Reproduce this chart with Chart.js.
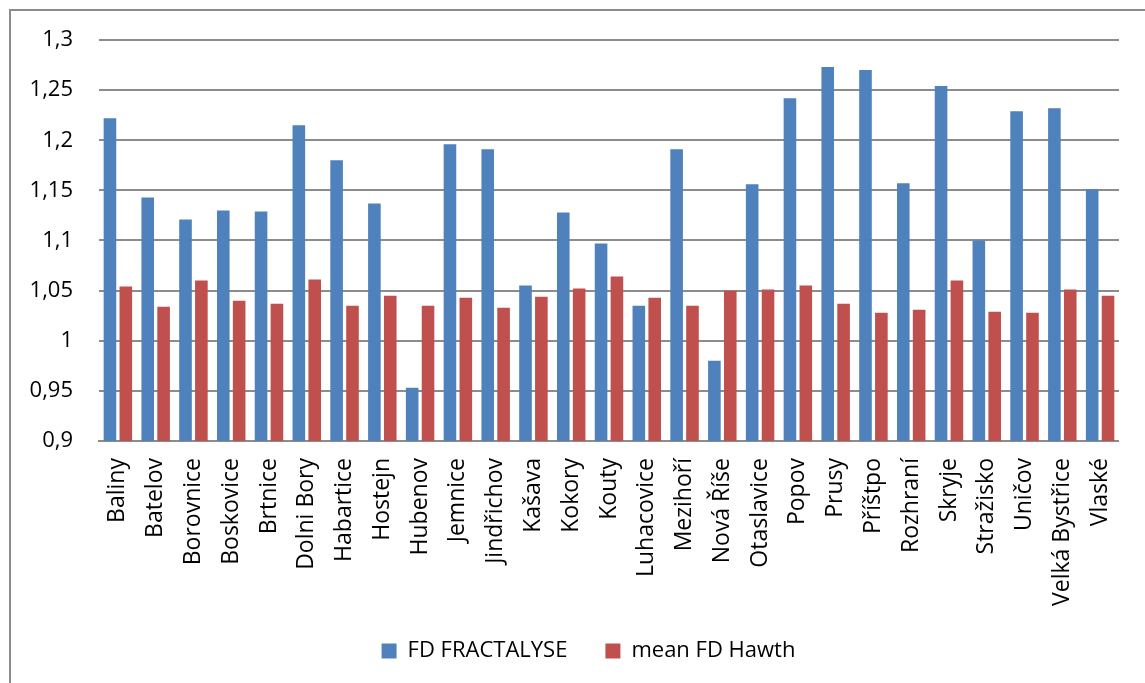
<!DOCTYPE html>
<html>
<head>
<meta charset="utf-8">
<script src="https://cdn.jsdelivr.net/npm/chart.js@4.4.1/dist/chart.umd.min.js"></script>
<style>
  html, body { margin: 0; padding: 0; background: #ffffff; }
  canvas { display: block; }
</style>
</head>
<body>
<canvas id="c" width="1145" height="683"></canvas>
<script>
const categories = ['Baliny','Batelov','Borovnice','Boskovice','Brtnice','Dolni Bory','Habartice','Hostejn','Hubenov','Jemnice','Jindřichov','Kašava','Kokory','Kouty','Luhacovice','Mezihoří','Nová Říše','Otaslavice','Popov','Prusy','Příštpo','Rozhraní','Skryje','Stražisko','Uničov','Velká Bystřice','Vlaské'];
const fdFractalyse = [1.222, 1.143, 1.121, 1.130, 1.129, 1.215, 1.180, 1.137, 0.953, 1.196, 1.191, 1.055, 1.128, 1.097, 1.035, 1.191, 0.980, 1.156, 1.242, 1.273, 1.270, 1.157, 1.254, 1.100, 1.229, 1.232, 1.151];
const meanFdHawth = [1.054, 1.034, 1.060, 1.040, 1.037, 1.061, 1.035, 1.045, 1.035, 1.043, 1.033, 1.044, 1.052, 1.064, 1.043, 1.035, 1.050, 1.051, 1.055, 1.037, 1.028, 1.031, 1.060, 1.029, 1.028, 1.051, 1.045];
const seriesNames = ['FD FRACTALYSE', 'mean FD Hawth'];
const yTickLabels = ['0,9','0,95','1','1,05','1,1','1,15','1,2','1,25','1,3'];

const FONT = 'Open Sans';

const framePlugin = {
  id: 'frame',
  afterLayout(chart) {
    const lg = chart.legend;
    if (lg) {
      lg.left = 48;
      lg.top = 602;
      lg.bottom = 683;
      lg.height = 81;
    }
  },
  beforeDraw(chart) {
    const ctx = chart.ctx;
    ctx.save();
    ctx.strokeStyle = '#8c8c8c';
    ctx.lineWidth = 2;
    ctx.beginPath();
    ctx.moveTo(10, 2000);
    ctx.lineTo(10, 10);
    ctx.lineTo(2000, 10);
    ctx.stroke();
    ctx.restore();
  }
};

new Chart(document.getElementById('c'), {
  type: 'bar',
  data: {
    labels: categories,
    datasets: [
      { label: seriesNames[0], data: fdFractalyse, backgroundColor: '#4F81BD', borderWidth: 0,
        categoryPercentage: 0.84, barPercentage: 0.794 },
      { label: seriesNames[1], data: meanFdHawth, backgroundColor: '#C0504D', borderWidth: 0,
        categoryPercentage: 0.84, barPercentage: 0.794 }
    ]
  },
  options: {
    responsive: false,
    animation: false,
    layout: { padding: { left: 0, right: 16, top: 40, bottom: 11 } },
    plugins: {
      tooltip: { enabled: false },
      title: { display: false },
      legend: {
        position: 'bottom',
        maxHeight: 30,
        labels: {
          font: { family: FONT, size: 22 },
          color: '#000000',
          boxWidth: 15,
          boxHeight: 15,
          padding: 38
        }
      }
    },
    scales: {
      x: {
        grid: { display: false, drawTicks: false },
        border: { display: true, color: '#8c8c8c', width: 2 },
        ticks: {
          font: { family: FONT, size: 23 },
          color: '#000000',
          autoSkip: false,
          minRotation: 90,
          maxRotation: 90,
          padding: 17
        },
        afterFit(scale) { scale.height = 201; }
      },
      y: {
        min: 0.9,
        max: 1.3,
        beginAtZero: false,
        grid: { color: '#8c8c8c', lineWidth: 2, drawTicks: false },
        border: { display: false },
        ticks: {
          stepSize: 0.05,
          font: { family: FONT, size: 22 },
          color: '#000000',
          padding: 26,
          callback: (v, i) => yTickLabels[i]
        },
        afterFit(scale) { scale.width = 99; }
      }
    }
  },
  plugins: [framePlugin]
});
</script>
</body>
</html>
